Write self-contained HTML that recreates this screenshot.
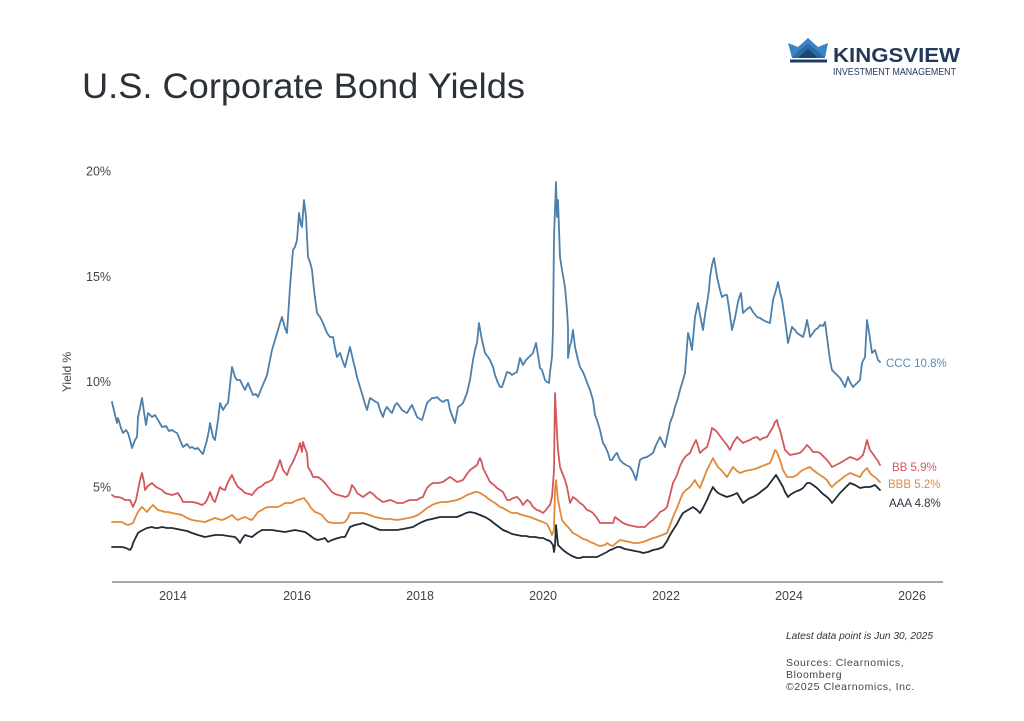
<!DOCTYPE html>
<html>
<head>
<meta charset="utf-8">
<style>
html,body{margin:0;padding:0;background:#fff;}
svg{display:block;}
text{font-family:"Liberation Sans",sans-serif;}
</style>
</head>
<body>
<svg width="1024" height="721" viewBox="0 0 1024 721" xmlns="http://www.w3.org/2000/svg">
<rect width="1024" height="721" fill="#ffffff"/>

<!-- Logo -->
<g>
  <polygon points="788,43 798,47 808,38 818,47 828,43 825,58 792,58" fill="#3a84c3"/>
  <polygon points="792,58 800,50 808,44 816,50 825,58" fill="#2a6aa6"/>
  <polygon points="798,58 808,49 818,58" fill="#1d4675"/>
  <rect x="790" y="59.5" width="37" height="3" fill="#1f3d66"/>
  <text x="833" y="62" font-size="20" font-weight="bold" fill="#23395b" textLength="127" lengthAdjust="spacingAndGlyphs">KINGSVIEW</text>
  <text x="833" y="75" font-size="10.5" fill="#23395b" textLength="123" lengthAdjust="spacingAndGlyphs">INVESTMENT MANAGEMENT</text>
</g>

<!-- Title -->
<text x="82" y="98" font-size="35.5" fill="#2b3138" textLength="443" lengthAdjust="spacingAndGlyphs">U.S. Corporate Bond Yields</text>

<!-- Y axis labels -->
<g font-size="12.5" fill="#444">
  <text x="86" y="175.5">20%</text>
  <text x="86" y="281">15%</text>
  <text x="86" y="386">10%</text>
  <text x="93" y="491.5">5%</text>
</g>
<text transform="translate(71,372) rotate(-90)" font-size="12" fill="#444" text-anchor="middle">Yield %</text>

<!-- X axis -->
<line x1="112" y1="582" x2="943" y2="582" stroke="#8a8d90" stroke-width="1.5"/>
<g font-size="12.5" fill="#444" text-anchor="middle">
  <text x="173" y="600">2014</text>
  <text x="297" y="600">2016</text>
  <text x="420" y="600">2018</text>
  <text x="543" y="600">2020</text>
  <text x="666" y="600">2022</text>
  <text x="789" y="600">2024</text>
  <text x="912" y="600">2026</text>
</g>

<!-- Series -->
<g fill="none" stroke-width="1.8" stroke-linejoin="round" stroke-linecap="round">
<polyline stroke="#4d7fab" points="112,402 115,415 117,423 118,418 121,428 123,433 126,430 128,433 130,440 132,448 135,440 137,437 138,417 140,408 142,398 144,412 146,425 148,413 152,417 155,415 158,420 162,427 166,426 169,431 172,430 175,432 177,433 180,440 183,447 187,444 190,448 192,447 195,449 198,448 201,452 203,454 205,447 207,440 209,430 210,423 213,437 215,440 218,420 220,403 223,410 226,405 228,403 230,385 232,367 235,377 237,380 240,380 243,386 245,390 248,383 250,388 253,395 256,394 258,397 260,392 262,387 265,380 267,375 270,360 272,350 275,340 278,330 280,323 282,317 285,328 287,333 290,287 293,250 295,247 297,240 299,213 301,225 302,227 304,200 306,217 308,257 310,262 312,270 314,290 317,313 320,317 323,323 325,328 327,333 330,337 333,337 335,348 337,357 340,353 343,362 345,367 348,355 350,347 353,360 355,368 357,377 360,387 363,397 365,404 367,410 370,398 373,400 376,402 378,403 380,410 383,417 385,410 387,407 390,411 392,413 395,405 397,403 400,407 402,410 405,412 407,413 410,408 412,405 415,412 417,417 420,419 422,420 425,410 427,403 430,400 432,398 435,398 437,397 440,400 443,402 446,400 448,400 450,410 453,418 455,423 458,407 461,405 463,403 465,398 467,393 470,380 473,360 475,350 477,343 479,323 481,335 482,340 485,353 488,357 490,360 493,367 495,375 498,383 500,387 502,387 505,378 507,372 510,373 512,375 515,373 517,372 520,358 523,365 526,360 528,358 531,355 533,353 536,343 538,355 540,368 542,370 545,380 547,382 549,383 550,372 552,357 553,330 554,237 556,182 557,217 558,200 560,257 562,270 565,287 567,310 568,327 568,358 570,345 571,343 573,330 575,347 578,360 580,367 583,372 585,377 588,385 590,390 593,400 595,415 597,420 600,430 603,443 605,446 608,453 610,460 612,460 615,455 617,453 620,460 623,463 626,465 630,467 633,472 636,480 638,470 640,460 643,458 647,457 650,455 653,453 656,445 660,437 663,443 665,447 668,433 670,423 673,415 675,407 678,398 680,390 683,380 685,373 688,333 690,340 692,350 695,317 698,303 700,315 703,330 705,315 707,303 709,290 710,277 712,265 714,258 716,270 717,277 720,290 722,297 725,295 727,295 730,315 732,330 735,318 737,307 739,298 741,293 743,313 746,310 750,307 753,312 757,317 760,318 763,320 767,322 770,323 773,300 776,290 778,282 780,292 782,300 785,320 788,343 790,335 792,327 795,330 797,333 800,335 803,337 805,330 807,320 809,330 810,337 813,333 815,330 818,328 820,325 823,326 825,322 828,345 830,360 832,370 836,374 840,378 843,383 845,387 848,377 850,382 853,387 857,383 860,380 862,363 865,357 867,320 869,332 872,353 875,350 878,360 880,362"/>
<polyline stroke="#d2585c" points="112,495 115,497 118,497 122,498 125,500 128,500 130,500 133,507 136,500 138,490 140,480 142,473 144,482 145,490 148,486 152,483 155,486 158,488 162,490 165,493 168,494 172,495 175,494 178,493 181,498 183,502 187,502 192,502 197,503 202,505 205,503 207,500 209,495 210,492 213,500 215,502 218,493 220,487 222,489 225,490 228,482 232,475 235,482 238,487 242,490 245,493 249,494 252,495 255,491 258,488 262,486 265,483 268,482 272,480 274,476 275,473 278,466 280,460 283,470 287,475 290,467 293,462 295,457 298,450 300,443 302,452 303,442 305,448 307,453 308,467 311,472 313,477 318,477 322,480 325,483 328,487 332,492 335,494 338,495 342,496 345,497 348,496 350,492 352,485 355,489 357,493 360,495 363,497 367,494 370,492 373,494 377,498 380,500 383,502 387,501 390,500 393,501 397,503 400,503 403,503 407,501 410,500 413,500 417,500 420,498 423,497 425,492 427,488 430,485 433,483 438,483 443,482 447,479 450,477 453,479 457,482 460,481 463,480 467,474 470,470 473,468 477,465 479,460 480,458 482,463 483,468 487,476 490,482 494,485 497,488 500,490 503,492 507,500 510,500 513,498 517,497 520,500 523,505 527,500 530,502 533,507 537,510 540,511 543,513 546,510 548,507 550,505 552,497 554,470 555,393 557,433 558,450 560,467 563,475 565,480 567,487 570,503 573,497 577,500 580,503 583,505 587,510 590,511 593,513 597,518 600,523 605,523 610,523 613,523 615,517 619,520 623,523 628,525 633,526 637,527 641,527 645,527 649,523 653,520 657,516 660,512 664,510 667,507 670,495 673,483 677,475 680,466 683,460 686,456 690,453 693,446 696,440 698,446 700,453 703,450 707,447 710,437 712,428 715,430 717,432 720,436 723,440 727,445 730,450 733,443 737,437 740,440 743,443 747,441 750,440 753,438 757,437 760,440 763,438 767,437 770,432 773,427 775,422 777,420 778,425 780,430 783,442 785,450 788,453 790,455 795,454 800,453 803,450 807,445 810,448 813,452 817,452 820,453 823,456 827,460 830,464 832,467 836,465 840,463 845,460 850,457 853,458 857,460 860,458 863,455 865,448 867,440 869,447 870,450 873,454 875,457 878,461 880,465"/>
<polyline stroke="#e08a3a" points="112,522 117,522 122,522 125,524 128,525 131,524 133,523 136,516 138,512 140,509 142,507 145,510 147,512 150,508 153,505 156,508 158,510 162,511 165,512 168,512 172,513 177,514 182,515 187,518 192,520 198,521 205,522 210,520 215,518 218,519 222,520 227,518 232,515 235,518 238,520 242,518 245,517 249,519 252,520 255,516 258,512 262,510 265,508 268,507 272,507 275,507 278,507 282,505 285,503 289,503 292,503 295,501 298,500 301,499 304,498 306,501 308,503 311,508 315,512 318,513 322,515 325,519 328,522 333,523 338,523 342,523 345,522 348,518 350,513 355,513 360,513 363,513 370,515 375,517 380,518 385,519 390,519 397,520 403,519 408,518 413,517 418,515 422,512 427,508 432,505 437,503 442,502 447,502 452,501 457,500 462,498 467,495 470,494 475,492 478,492 480,493 485,496 490,500 495,503 500,507 503,508 508,511 512,513 517,513 522,515 526,516 530,517 535,519 540,521 543,522 547,524 550,530 552,535 554,530 555,490 556,480 558,500 560,510 562,520 565,524 568,527 573,533 577,535 580,537 583,539 587,540 590,542 593,543 597,545 600,546 605,545 607,543 610,545 613,546 616,543 620,540 625,541 630,542 633,543 638,543 643,542 648,540 653,538 657,537 662,535 667,533 670,525 673,517 677,508 680,500 683,493 686,490 690,487 693,483 695,480 697,484 700,488 703,480 707,470 710,464 713,458 715,462 718,467 722,471 727,477 730,472 733,467 737,471 740,473 745,471 750,470 755,469 760,467 765,465 770,463 773,456 775,450 777,452 780,460 783,470 787,477 790,477 793,477 797,475 800,472 803,470 807,468 810,467 813,470 817,473 820,475 823,477 827,480 830,485 832,487 836,483 840,480 845,476 850,473 855,475 860,477 863,472 867,468 870,473 873,476 875,477 878,480 880,482"/>
<polyline stroke="#1f2c38" points="112,547 117,547 122,547 126,548 130,550 132,547 133,543 136,537 138,533 141,531 143,530 147,528 152,527 155,528 158,528 162,527 167,528 172,528 177,529 182,530 187,531 192,533 198,535 205,537 210,536 215,535 222,535 228,536 235,537 238,540 240,543 242,539 245,535 248,536 252,537 257,533 262,530 267,530 272,530 278,531 285,532 290,531 295,530 300,531 305,532 308,534 312,537 315,539 318,540 322,539 325,538 328,542 332,540 335,539 338,538 342,537 345,537 347,533 350,527 355,525 360,524 363,523 368,525 373,527 380,530 385,530 390,530 397,530 403,529 408,528 413,527 418,524 422,522 427,520 432,519 436,518 440,517 445,517 450,517 457,517 462,515 466,513 470,512 475,513 480,515 485,517 490,520 495,524 499,527 503,530 508,532 512,534 517,535 522,536 526,536 530,537 535,537 540,538 543,538 547,540 550,541 553,545 554,552 555,545 556,525 558,545 560,547 563,550 567,553 572,556 577,558 580,558 583,557 590,557 597,557 603,554 607,552 610,550 613,549 617,547 620,547 625,549 630,550 635,551 640,552 643,553 648,552 653,550 658,549 663,547 667,541 670,535 673,530 677,524 680,518 683,513 688,510 693,507 697,510 700,513 703,508 707,500 710,493 713,487 715,490 718,493 722,495 727,497 730,496 733,495 737,493 740,498 743,503 747,500 750,498 753,497 758,494 763,490 767,487 770,483 773,479 776,475 779,480 783,487 785,492 788,497 790,495 793,493 797,491 800,490 803,488 807,483 810,483 813,485 817,488 820,491 823,494 827,497 830,500 832,503 836,498 840,493 845,488 850,483 855,485 860,488 865,487 870,487 875,485 878,488 880,490"/>
</g>

<!-- End labels -->
<g font-size="11.5">
  <text x="886" y="367" fill="#5a8bb6">CCC 10.8%</text>
  <text x="892" y="471" fill="#d2585c">BB 5.9%</text>
  <text x="888" y="488" fill="#e08a3a">BBB 5.2%</text>
  <text x="889" y="507" fill="#2b3642">AAA 4.8%</text>
</g>

<!-- Footer -->
<text x="786" y="639" font-size="10" font-style="italic" fill="#333" textLength="147" lengthAdjust="spacingAndGlyphs">Latest data point is Jun 30, 2025</text>
<g font-size="10.5" fill="#444" letter-spacing="0.6">
  <text x="786" y="666">Sources: Clearnomics,</text>
  <text x="786" y="678">Bloomberg</text>
  <text x="786" y="690">©2025 Clearnomics, Inc.</text>
</g>
</svg>
</body>
</html>
